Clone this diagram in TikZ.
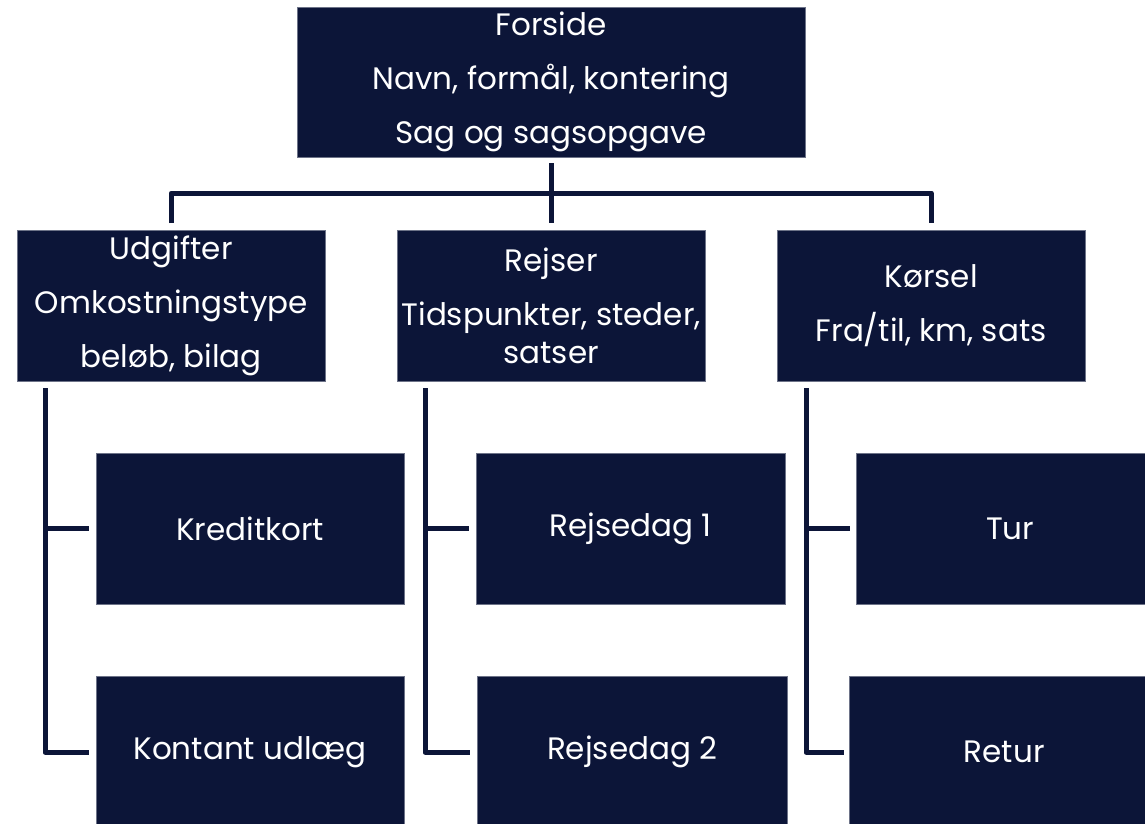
\documentclass[tikz,border=0pt]{standalone}
\usepackage{fontspec}
\setmainfont{Poppins}
\definecolor{navy}{RGB}{12,21,56}
\tikzset{
  box/.style={fill=navy, draw=navy!60!white, line width=0.4pt, text=white, align=center, inner sep=0pt, anchor=north west,
    font=\fontsize{31}{54}\selectfont},
  conn/.style={draw=navy, line width=5pt, line join=round},
}
\begin{document}
\begin{tikzpicture}[x=1pt,y=-1pt]
\useasboundingbox (0,0) rectangle (1145,823);
\clip (0,0) rectangle (1145,823);
\fill[white] (0,0) rectangle (1145,823);
% top
\node[box, minimum width=508pt, minimum height=150pt] (top) at (297,7) {Forside\\Navn, formål, kontering\\Sag og sagsopgave};
% level 2
\node[box, minimum width=308pt, minimum height=151pt] (udg) at (17,230) {Udgifter\\Omkostningstype\\beløb, bilag};
\node[box, minimum width=308pt, minimum height=151pt] (rej) at (397,230) {Rejser\\Tidspunkter, steder,\\[-16pt]satser};
\node[box, minimum width=308pt, minimum height=151pt] (kor) at (777,230) {Kørsel\\Fra/til, km, sats};
% level 3
\node[box, minimum width=308pt, minimum height=151pt] (kred) at (96,453) {Kreditkort};
\node[box, minimum width=308pt, minimum height=152pt] (kont) at (96,676) {Kontant udlæg};
\node[box, minimum width=309pt, minimum height=151pt] (rd1) at (476,453) {Rejsedag 1};
\node[box, minimum width=310pt, minimum height=152pt] (rd2) at (477,676) {Rejsedag 2};
\node[box, minimum width=308pt, minimum height=151pt] (tur) at (856,453) {Tur};
\node[box, minimum width=310pt, minimum height=152pt] (ret) at (849,676) {Retur};
% connectors level 1-2
\coordinate (bus) at (0,193);
\draw[conn, shorten <=6pt, shorten >=7pt] (top.south) -- (rej.north);
\draw[conn, shorten <=7pt, shorten >=7pt] (udg.north) -- (udg.north |- bus) -- (kor.north |- bus) -- (kor.north);
% trees
\coordinate (ua) at ([xshift=28pt]udg.south west);
\draw[conn, shorten <=7pt, shorten >=7pt] (ua) -- (ua |- kont.west) -- (kont.west);
\draw[conn, shorten >=7pt] (ua |- kred.west) -- (kred.west);
\coordinate (ra) at ([xshift=28pt]rej.south west);
\draw[conn, shorten <=7pt, shorten >=7pt] (ra) -- (ra |- rd2.west) -- (rd2.west);
\draw[conn, shorten >=7pt] (ra |- rd1.west) -- (rd1.west);
\coordinate (ka) at ([xshift=29pt]kor.south west);
\draw[conn, shorten <=7pt, shorten >=5pt] (ka) -- (ka |- ret.west) -- (ret.west);
\draw[conn, shorten >=6pt] (ka |- tur.west) -- (tur.west);
\end{tikzpicture}
\end{document}
